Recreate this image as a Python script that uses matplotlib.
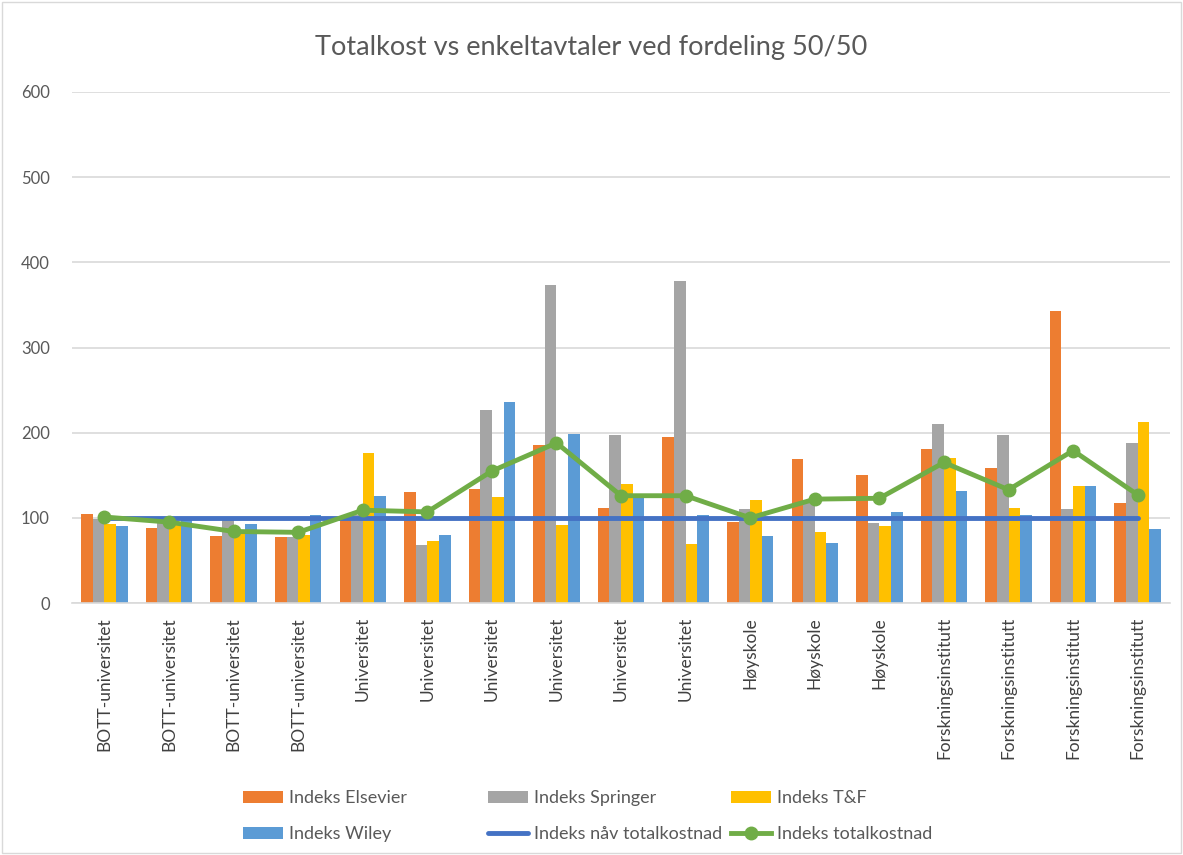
import matplotlib

matplotlib.use("Agg")
import matplotlib.pyplot as plt
import numpy as np
from matplotlib.patches import Rectangle

categories = [
    "BOTT-universitet", "BOTT-universitet", "BOTT-universitet", "BOTT-universitet",
    "Universitet", "Universitet", "Universitet", "Universitet", "Universitet", "Universitet",
    "Høyskole", "Høyskole", "Høyskole",
    "Forskningsinstitutt", "Forskningsinstitutt", "Forskningsinstitutt", "Forskningsinstitutt",
]
elsevier = [105, 88, 79, 78, 100, 130, 134, 185, 111, 195, 95, 169, 150, 181, 159, 343, 118]
springer = [99, 97, 97, 77, 103, 68, 227, 373, 197, 378, 110, 118, 94, 210, 197, 110, 188]
tandf = [93, 93, 84, 80, 176, 73, 125, 92, 140, 69, 121, 83, 91, 170, 112, 137, 213]
wiley = [91, 97, 93, 103, 126, 80, 236, 199, 127, 103, 79, 70, 107, 131, 103, 137, 87]
naav_total = [100] * 17
totalkost = [101, 95, 84, 83, 109, 107, 155, 188, 126, 126, 100, 122, 123, 165, 133, 179, 127]

plt.rcParams["font.family"] = ["Lato", "DejaVu Sans"]

fig = plt.figure(figsize=(11.83, 8.55), dpi=100)
ax = fig.add_axes([0.061, 0.2947, 0.928, 0.5977])

x = np.arange(len(categories))
w = 0.18
bar_series = [
    (elsevier, "Indeks Elsevier", "#ED7D31"),
    (springer, "Indeks Springer", "#A5A5A5"),
    (tandf, "Indeks T&F", "#FFC000"),
    (wiley, "Indeks Wiley", "#5B9BD5"),
]
bars = []
for i, (vals, label, color) in enumerate(bar_series):
    b = ax.bar(x + (i - 1.5) * w, vals, w, color=color, label=label, zorder=2)
    bars.append(b)

l1, = ax.plot(x, naav_total, color="#4472C4", lw=3.5, solid_capstyle="round",
              label="Indeks nåv totalkostnad", zorder=3)
l2, = ax.plot(x, totalkost, color="#70AD47", lw=3.5, marker="o", markersize=9,
              label="Indeks totalkostnad", zorder=4)

ax.set_xlim(-0.5, len(categories) - 0.5)
ax.set_ylim(0, 600)
ax.set_yticks(range(0, 601, 100))
ax.yaxis.grid(True, color="#D9D9D9", lw=1.2, zorder=0)
ax.set_axisbelow(True)
for s in ["top", "right", "left"]:
    ax.spines[s].set_visible(False)
ax.spines["bottom"].set_color("#D9D9D9")
ax.spines["bottom"].set_linewidth(1.2)
ax.tick_params(axis="y", length=0, labelsize=12, labelcolor="#595959", pad=16)
ax.tick_params(axis="x", length=0, labelsize=12.5, labelcolor="#404040", pad=10)
ax.set_xticks(x)
ax.set_xticklabels(categories, rotation=90, va="top")

fig.text(0.5, 0.944, "Totalkost vs enkeltavtaler ved fordeling 50/50",
         ha="center", va="center", fontsize=19.5, color="#595959")

# Excel-style legend: three equal-width columns, two rows
columns = [[bars[0], bars[3]], [bars[1], l1], [bars[2], l2]]
col_x = [0.2055, 0.4125, 0.618]
for hs, cx in zip(columns, col_x):
    fig.legend(hs, [h.get_label() for h in hs], loc="upper left",
               bbox_to_anchor=(cx, 0.0755), frameon=False, fontsize=13,
               labelcolor="#595959", handlelength=2.2, handletextpad=0.35,
               labelspacing=1.1, borderpad=0, borderaxespad=0)

fig.patches.append(Rectangle((0.002, 0.002), 0.996, 0.996, transform=fig.transFigure,
                             fill=False, edgecolor="#D9D9D9", lw=1))

fig.savefig("out.png", dpi=100)
